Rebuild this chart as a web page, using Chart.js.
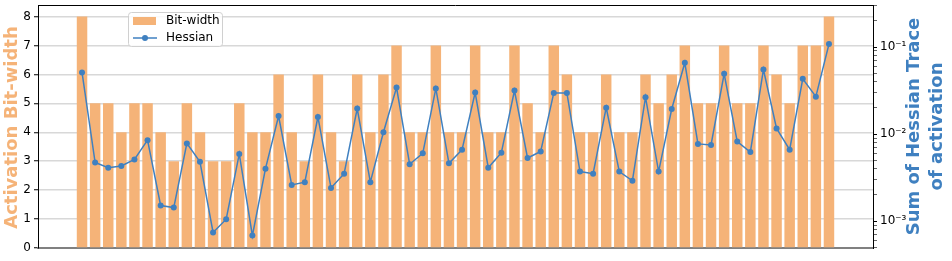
<!DOCTYPE html>
<html>
<head>
<meta charset="utf-8">
<script src="https://cdn.jsdelivr.net/npm/chart.js@4/dist/chart.umd.min.js"></script>
<style>
  html, body { margin: 0; padding: 0; background: #fff; }
  #wrap { width: 952px; height: 261px; }
</style>
</head>
<body>
<div id="wrap"><canvas id="chart" width="952" height="261"></canvas></div>
<script>
// ---------- DATA ----------
const bitWidths = [
    8, 5, 5, 4, 5, 5, 4, 3, 5, 4, 3, 3, 5, 4, 4, 6, 4, 3, 6, 4,
    3, 6, 4, 6, 7, 4, 4, 7, 4, 4, 7, 4, 4, 7, 5, 4, 7, 6, 4, 4,
    6, 4, 4, 6, 5, 6, 7, 5, 5, 7, 5, 5, 7, 6, 5, 7, 7, 8
];
const hessianTrace = [
    0.051, 0.0047, 0.0041, 0.0043, 0.0051, 0.0085, 0.00151, 0.00143, 0.0078, 0.0048,
    0.00074, 0.00105, 0.0059, 0.00068, 0.0040, 0.0161, 0.0026, 0.0028, 0.0157, 0.0024,
    0.0035, 0.0196, 0.0028, 0.0105, 0.0342, 0.0045, 0.0060, 0.0334, 0.0046, 0.0066,
    0.0300, 0.0041, 0.0061, 0.0316, 0.0053, 0.0063, 0.0297, 0.0297, 0.0037, 0.0035,
    0.0201, 0.0037, 0.0029, 0.0265, 0.0037, 0.0194, 0.0659, 0.0077, 0.0075, 0.0492,
    0.0082, 0.0062, 0.0552, 0.0116, 0.0066, 0.0431, 0.0269, 0.108
];
const leftTicks = [0, 1, 2, 3, 4, 5, 6, 7, 8];
const legendLabels = ["Bit-width", "Hessian"];
const leftTitle = "Activation Bit-width";
const rightTitle = ["Sum of Hessian Trace", "of activation"];

// ---------- STYLE ----------
const ORANGE = "#f5b378";
const BLUE = "#3f80c0";
const FONT = "'DejaVu Sans', sans-serif";

const superscripts = { "-": "\u207B", "1": "\u00B9", "2": "\u00B2", "3": "\u00B3" };
function powLabel(v) {
    const e = Math.log10(v);
    if (Math.abs(e - Math.round(e)) > 1e-6) return "";
    const s = String(Math.round(e)).split("").map(c => superscripts[c] || c).join("");
    return "10" + s;
}

// no extra padding from the tick labels, the plot box is fixed
function noPad(scale) {
    scale.paddingTop = 0;
    scale.paddingBottom = 0;
    scale.paddingLeft = 0;
    scale.paddingRight = 0;
}

// ---------- DECORATION PLUGIN ----------
const decorations = {
    id: "decorations",
    afterDraw(chart) {
        const ctx = chart.ctx;
        const a = chart.chartArea;
        ctx.save();

        // top spine
        ctx.strokeStyle = "#000";
        ctx.lineWidth = 1;
        ctx.beginPath();
        ctx.moveTo(a.left, a.top + 0.5);
        ctx.lineTo(a.right, a.top + 0.5);
        ctx.stroke();

        // left title
        ctx.font = "bold 18px " + FONT;
        ctx.textAlign = "center";
        ctx.textBaseline = "middle";
        ctx.fillStyle = ORANGE;
        ctx.translate(12, (a.top + a.bottom) / 2 + 1);
        ctx.rotate(-Math.PI / 2);
        ctx.fillText(leftTitle, 0, 0);
        ctx.restore();

        // right title
        ctx.save();
        ctx.font = "bold 18px " + FONT;
        ctx.textAlign = "center";
        ctx.textBaseline = "middle";
        ctx.fillStyle = BLUE;
        ctx.translate(926, (a.top + a.bottom) / 2);
        ctx.rotate(-Math.PI / 2);
        ctx.fillText(rightTitle[0], 0, -11.5);
        ctx.fillText(rightTitle[1], 0, 11.5);
        ctx.restore();

        // legend
        ctx.save();
        const lx = 128, ly = 12, lw = 94, lh = 34;
        ctx.fillStyle = "rgba(255,255,255,0.85)";
        ctx.strokeStyle = "#d0d0d0";
        ctx.lineWidth = 1;
        ctx.beginPath();
        ctx.roundRect(lx + 0.5, ly + 0.5, lw, lh, 3);
        ctx.fill();
        ctx.stroke();

        ctx.fillStyle = ORANGE;
        ctx.fillRect(133, 17, 23, 8);

        ctx.strokeStyle = BLUE;
        ctx.lineWidth = 1.5;
        ctx.beginPath();
        ctx.moveTo(133, 38);
        ctx.lineTo(157, 38);
        ctx.stroke();
        ctx.fillStyle = BLUE;
        ctx.beginPath();
        ctx.arc(145, 38, 3, 0, Math.PI * 2);
        ctx.fill();

        ctx.fillStyle = "#000";
        ctx.font = "12px " + FONT;
        ctx.textAlign = "left";
        ctx.textBaseline = "middle";
        ctx.fillText(legendLabels[0], 166, 21);
        ctx.fillText(legendLabels[1], 166, 38);
        ctx.restore();
    }
};

// ---------- CHART ----------
const ctx = document.getElementById("chart").getContext("2d");

new Chart(ctx, {
    data: {
        datasets: [
            {
                type: "line",
                label: legendLabels[1],
                data: hessianTrace.map((v, i) => ({ x: i, y: v })),
                yAxisID: "y2",
                borderColor: BLUE,
                backgroundColor: BLUE,
                borderWidth: 1.5,
                pointRadius: 3,
                pointBorderWidth: 0,
                tension: 0,
                order: 0
            },
            {
                type: "bar",
                label: legendLabels[0],
                data: bitWidths.map((v, i) => ({ x: i, y: v })),
                yAxisID: "y",
                backgroundColor: ORANGE,
                barPercentage: 0.8,
                categoryPercentage: 1.0,
                order: 1
            }
        ]
    },
    options: {
        responsive: false,
        animation: false,
        devicePixelRatio: 1,
        layout: { padding: { top: 5, left: 0, right: 0, bottom: 0 } },
        plugins: {
            legend: { display: false },
            tooltip: { enabled: false }
        },
        scales: {
            x: {
                type: "linear",
                min: -3.36,
                max: 60.36,
                offset: false,
                bounds: "ticks",
                ticks: { display: false },
                grid: { display: false, drawTicks: false, offset: false },
                border: { display: true, color: "#808080", width: 2 },
                afterFit(scale) { scale.height = 13; noPad(scale); }
            },
            y: {
                type: "linear",
                position: "left",
                min: 0,
                max: 8.4,
                afterBuildTicks(scale) {
                    scale.ticks = leftTicks.map(v => ({ value: v }));
                },
                ticks: {
                    color: "#000",
                    font: { family: FONT, size: 12 },
                    padding: 3
                },
                grid: {
                    color: "#d8d8d8",
                    lineWidth: 1.5,
                    tickColor: "#000",
                    tickLength: 4,
                    tickWidth: 1
                },
                border: { color: "#000", width: 1 },
                afterFit(scale) { scale.width = 38; noPad(scale); }
            },
            y2: {
                type: "logarithmic",
                position: "right",
                min: 4.9e-4,
                max: 0.304,
                afterBuildTicks(scale) {
                    const out = [];
                    [1e-4, 1e-3, 1e-2, 1e-1].forEach(d => {
                        for (let k = 1; k <= 9; k++) {
                            const v = +(k * d).toPrecision(3);
                            if (v >= scale.min && v <= scale.max) out.push({ value: v, major: k === 1 });
                        }
                    });
                    scale.ticks = out;
                },
                ticks: {
                    color: "#000",
                    font: { family: FONT, size: 12 },
                    padding: 3,
                    autoSkip: false,
                    callback: v => powLabel(v)
                },
                grid: {
                    drawOnChartArea: false,
                    tickColor: "#000",
                    tickLength: 4,
                    tickWidth: c => (c.tick && c.tick.major ? 1 : 0.6)
                },
                border: { color: "#000", width: 1 },
                afterFit(scale) { scale.width = 79; noPad(scale); }
            }
        }
    },
    plugins: [decorations]
});
</script>
</body>
</html>
